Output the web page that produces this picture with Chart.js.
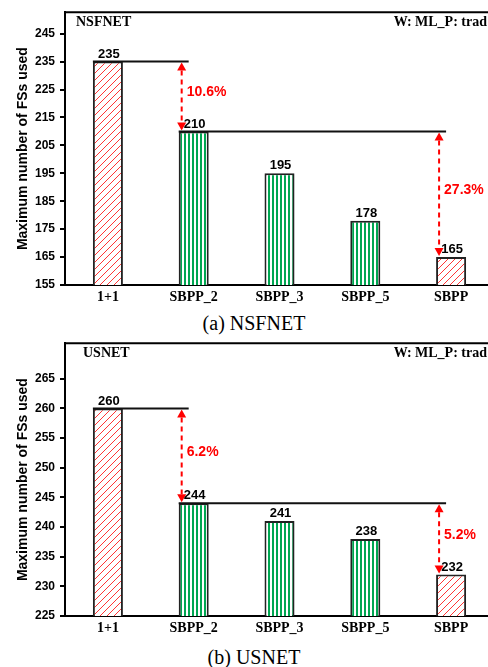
<!DOCTYPE html>
<html>
<head>
<meta charset="utf-8">
<script src="https://cdn.jsdelivr.net/npm/chart.js@4"></script>
<style>
  html, body { margin: 0; padding: 0; background: #fff; overflow: hidden; width: 488px; height: 667px; }
  .wrap { position: absolute; left: 0; }
  .wrap canvas { display: block; }
  .cap { position: absolute; left: 0; width: 508px; text-align: center; font: 20px "Liberation Serif", serif; line-height: 20px; color: #000; }
</style>
</head>
<body>
<div class="wrap" style="top:0"><canvas id="nsfChart" width="494" height="310"></canvas></div>
<div class="cap" style="top:313px">(a) NSFNET</div>
<div class="wrap" style="top:331px"><canvas id="usChart" width="494" height="310"></canvas></div>
<div class="cap" style="top:647px">(b) USNET</div>
<script>
// --- Data ---
const categories = ['1+1', 'SBPP_2', 'SBPP_3', 'SBPP_5', 'SBPP'];
const barKinds = ['hatch', 'stripe', 'stripe', 'stripe', 'hatch'];

const nsfValues = [235, 210, 195, 178, 165];
const nsfTicks = [155, 165, 175, 185, 195, 205, 215, 225, 235, 245];
const nsfRange = [155, 252.7];
const nsfGaps = [
  { from: 0, to: 1, label: '10.6%' },
  { from: 1, to: 4, label: '27.3%' }
];

const usValues = [260, 244, 241, 238, 232];
const usTicks = [225, 230, 235, 240, 245, 250, 255, 260, 265];
const usRange = [225, 271];
const usGaps = [
  { from: 0, to: 1, label: '6.2%' },
  { from: 1, to: 4, label: '5.2%' }
];

const yTitle = 'Maximum number of FSs used';
const cornerRight = 'W: ML_P: trad';

// --- Fill patterns ---
function makeHatch() {
  const c = document.createElement('canvas');
  c.width = 7; c.height = 7;
  const g = c.getContext('2d');
  g.fillStyle = '#fff';
  g.fillRect(0, 0, 7, 7);
  g.strokeStyle = '#ff3535';
  g.lineWidth = 1;
  g.beginPath(); g.moveTo(-1, 8); g.lineTo(8, -1); g.stroke();
  g.beginPath(); g.moveTo(-1, 1); g.lineTo(1, -1); g.stroke();
  g.beginPath(); g.moveTo(6, 8); g.lineTo(8, 6); g.stroke();
  return g.createPattern(c, 'repeat');
}

function makeStripe() {
  const c = document.createElement('canvas');
  c.width = 4; c.height = 4;
  const g = c.getContext('2d');
  g.fillStyle = '#fff';
  g.fillRect(0, 0, 4, 4);
  g.fillStyle = '#00a651';
  g.fillRect(0, 0, 2, 4);
  return g.createPattern(c, 'repeat');
}

// --- Annotations: frame top, value labels, gap arrows, corner texts ---
const gapPlugin = {
  id: 'gaps',
  afterDatasetsDraw(chart, args, opts) {
    const ctx = chart.ctx;
    const area = chart.chartArea;
    const y = chart.scales.y;
    const meta = chart.getDatasetMeta(0);
    const vals = chart.data.datasets[0].data;
    ctx.save();

    // top frame line
    ctx.strokeStyle = '#000';
    ctx.lineWidth = 2;
    ctx.beginPath();
    ctx.moveTo(area.left - 1, area.top);
    ctx.lineTo(area.right, area.top);
    ctx.stroke();

    // gap lines + arrows
    opts.gaps.forEach(g => {
      const fromBar = meta.data[g.from];
      const toBar = meta.data[g.to];
      const yFrom = y.getPixelForValue(vals[g.from]);
      const yTo = y.getPixelForValue(vals[g.to]);
      const leftFrom = fromBar.x - fromBar.width / 2;
      const ax = toBar.x - toBar.width / 2 + 3;

      ctx.strokeStyle = '#111';
      ctx.lineWidth = 2;
      ctx.setLineDash([]);
      ctx.beginPath();
      ctx.moveTo(leftFrom, yFrom);
      ctx.lineTo(ax + 7, yFrom);
      ctx.stroke();

      ctx.strokeStyle = '#ff0000';
      ctx.fillStyle = '#ff0000';
      ctx.setLineDash([5, 4]);
      ctx.beginPath();
      ctx.moveTo(ax, yFrom + 9);
      ctx.lineTo(ax, yTo - 9);
      ctx.stroke();
      ctx.setLineDash([]);

      ctx.beginPath();
      ctx.moveTo(ax, yFrom + 1);
      ctx.lineTo(ax - 4.5, yFrom + 9);
      ctx.lineTo(ax + 4.5, yFrom + 9);
      ctx.closePath();
      ctx.fill();

      ctx.beginPath();
      ctx.moveTo(ax, yTo - 1);
      ctx.lineTo(ax - 4.5, yTo - 9);
      ctx.lineTo(ax + 4.5, yTo - 9);
      ctx.closePath();
      ctx.fill();

      ctx.font = 'bold 14px "Liberation Sans", Arial, sans-serif';
      ctx.textAlign = 'left';
      ctx.textBaseline = 'middle';
      ctx.fillText(g.label, ax + 5, (yFrom + yTo) / 2 - 4);
    });

    // value labels
    ctx.fillStyle = '#000';
    ctx.font = 'bold 13px "Liberation Sans", Arial, sans-serif';
    ctx.textAlign = 'center';
    ctx.textBaseline = 'bottom';
    meta.data.forEach((bar, i) => {
      ctx.fillText(String(vals[i]), bar.x + 1, bar.y - 1);
    });

    // corner texts
    ctx.font = 'bold 14px "Liberation Serif", "Times New Roman", serif';
    ctx.textBaseline = 'middle';
    ctx.textAlign = 'left';
    ctx.fillText(opts.net, opts.netX, area.top + 10);
    ctx.textAlign = 'right';
    ctx.fillText(cornerRight, 487, area.top + 10);
    ctx.restore();
  }
};

function makeChart(id, values, ticks, range, gaps, net, netX) {
  const hatch = makeHatch();
  const stripe = makeStripe();
  return new Chart(document.getElementById(id), {
    type: 'bar',
    data: {
      labels: categories,
      datasets: [{
        data: values,
        backgroundColor: barKinds.map(k => k === 'hatch' ? hatch : stripe),
        borderColor: '#222',
        borderWidth: 2,
        barPercentage: 0.35,
        categoryPercentage: 1
      }]
    },
    options: {
      responsive: false,
      animation: false,
      layout: { padding: { top: 10, left: 0, right: 0, bottom: 0 } },
      plugins: {
        legend: { display: false },
        tooltip: { enabled: false },
        gaps: { gaps: gaps, net: net, netX: netX }
      },
      scales: {
        x: {
          offset: true,
          grid: { display: false, drawTicks: false },
          border: { color: '#000', width: 2 },
          ticks: {
            color: '#000',
            padding: 4,
            font: { family: 'Liberation Serif', weight: 'bold', size: 14 }
          },
          afterFit: s => { s.height = 25; }
        },
        y: {
          min: range[0],
          max: range[1],
          afterBuildTicks: s => { s.ticks = ticks.map(v => ({ value: v })); },
          grid: { drawOnChartArea: false, drawTicks: true, tickLength: 5, color: '#000', lineWidth: 2 },
          border: { color: '#000', width: 2 },
          ticks: {
            color: '#000',
            padding: 5,
            font: { family: 'Liberation Sans', weight: 'bold', size: 12 }
          },
          title: {
            display: true,
            text: yTitle,
            color: '#000',
            font: { family: 'Liberation Sans', weight: 'bold', size: 14 },
            padding: { top: 15, bottom: 0 }
          },
          afterFit: s => { s.width = 65; }
        }
      }
    },
    plugins: [gapPlugin]
  });
}

makeChart('nsfChart', nsfValues, nsfTicks, nsfRange, nsfGaps, 'NSFNET', 76);
makeChart('usChart', usValues, usTicks, usRange, usGaps, 'USNET', 83);
</script>
</body>
</html>
